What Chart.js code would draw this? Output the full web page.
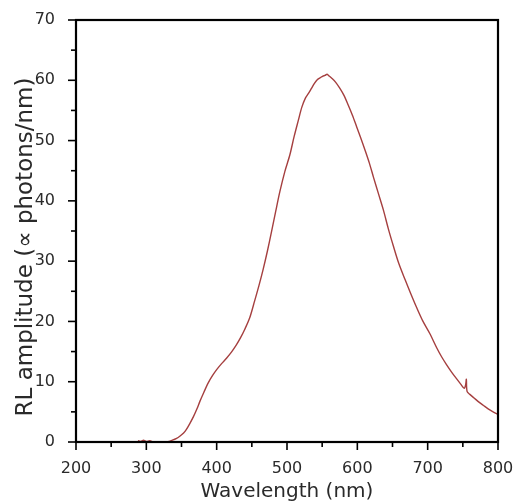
<!DOCTYPE html>
<html>
<head>
<meta charset="utf-8">
<script src="https://cdn.jsdelivr.net/npm/chart.js@4/dist/chart.umd.min.js"></script>
<style>
  html, body { margin: 0; padding: 0; background: #fff; }
  #wrap { width: 515px; height: 504px; }
</style>
</head>
<body>
<div id="wrap"><canvas id="c" width="515" height="504"></canvas></div>
<script>
// RL spectrum
const wavelength = [288, 292, 296, 300, 305, 310, 320, 330, 337, 343, 348, 353, 357, 362, 367, 372, 376, 382, 388, 394,
  400, 407, 414, 421, 428, 434, 440, 447, 454, 460, 466, 472, 478, 484, 490, 497, 504, 510, 516, 521,
  526, 531, 535, 539, 543, 547, 551, 554, 557, 560, 564, 569, 575, 581, 587, 593, 599, 605, 611, 617,
  623, 630, 637, 644, 651, 659, 668, 676, 684, 693, 703, 713, 720, 727, 734, 741, 747, 752, 754, 755,
  756, 760, 766, 772, 779, 786, 793, 800];
const amplitude = [0.2, 0.1, 0.3, 0.1, 0.2, 0.0, 0.0, 0.05, 0.3, 0.6, 1.0, 1.5, 2.1, 3.1, 4.2, 5.5, 6.7, 8.3, 9.8, 11.0,
  12.0, 13.0, 13.9, 14.9, 16.1, 17.3, 18.7, 20.6, 23.4, 25.9, 28.6, 31.6, 34.9, 38.3, 41.6, 44.9, 47.6, 50.6, 53.3, 55.5,
  57.0, 57.9, 58.7, 59.5, 60.1, 60.4, 60.7, 60.8, 61.0, 60.7, 60.3, 59.7, 58.7, 57.5, 55.9, 54.2, 52.3, 50.4, 48.4, 46.3,
  43.9, 41.2, 38.5, 35.4, 32.6, 29.6, 26.9, 24.6, 22.4, 20.1, 18.0, 15.6, 14.1, 12.8, 11.6, 10.5, 9.6, 8.9, 9.5, 10.4,
  8.4, 7.9, 7.3, 6.7, 6.1, 5.5, 5.0, 4.6];

const xTicks = [200, 300, 400, 500, 600, 700, 800];
const yTicks = [0, 10, 20, 30, 40, 50, 60, 70];
const yTitle = 'RL amplitude (\u221D photons/nm)';

const FONT = '"DejaVu Sans", sans-serif';

// frame, outward major/minor ticks and the y title
const frame = {
  id: 'frame',
  afterDraw(chart) {
    const {ctx, chartArea: a, scales} = chart;
    ctx.save();
    ctx.strokeStyle = '#000';
    ctx.lineWidth = 1.6;
    xTicks.forEach((v, i) => {
      let px = scales.x.getPixelForValue(v);
      ctx.beginPath(); ctx.moveTo(px, a.bottom); ctx.lineTo(px, a.bottom + 8); ctx.stroke();
      if (i < xTicks.length - 1) {
        px = scales.x.getPixelForValue(v + 50);
        ctx.beginPath(); ctx.moveTo(px, a.bottom); ctx.lineTo(px, a.bottom + 5); ctx.stroke();
      }
    });
    yTicks.forEach((v, i) => {
      let py = scales.y.getPixelForValue(v);
      ctx.beginPath(); ctx.moveTo(a.left, py); ctx.lineTo(a.left - 8, py); ctx.stroke();
      if (i < yTicks.length - 1) {
        py = scales.y.getPixelForValue(v + 5);
        ctx.beginPath(); ctx.moveTo(a.left, py); ctx.lineTo(a.left - 5, py); ctx.stroke();
      }
    });
    ctx.lineWidth = 2.2;
    ctx.strokeRect(a.left, a.top, a.right - a.left, a.bottom - a.top);

    // y title, a bit below the centre like in the original
    ctx.translate(32, 247);
    ctx.rotate(-Math.PI / 2);
    ctx.fillStyle = '#2a2a2a';
    ctx.font = '23px ' + FONT;
    ctx.textAlign = 'center';
    ctx.textBaseline = 'alphabetic';
    ctx.fillText(yTitle, 0, 0);
    ctx.restore();
  }
};

new Chart(document.getElementById('c'), {
  type: 'line',
  data: {
    datasets: [{
      data: wavelength.map((w, i) => ({x: w, y: amplitude[i]})),
      borderColor: '#a53f3f',
      borderWidth: 1.4,
      pointRadius: 0,
      tension: 0.3,
      fill: false
    }]
  },
  options: {
    responsive: false,
    animation: false,
    layout: {padding: {top: 20, right: 17, left: 0, bottom: 0}},
    plugins: {legend: {display: false}, tooltip: {enabled: false}},
    scales: {
      x: {
        type: 'linear', min: 200, max: 800,
        afterBuildTicks: s => { s.ticks = xTicks.map(v => ({value: v})); },
        afterFit: s => { s.height = 62; s.paddingLeft = 0; s.paddingRight = 0; },
        grid: {display: false},
        border: {display: false},
        ticks: {color: '#2a2a2a', padding: 9, font: {family: FONT, size: 16}},
        title: {display: true, text: 'Wavelength (nm)', color: '#2a2a2a',
          font: {family: FONT, size: 20}, padding: {top: 0, bottom: 0}}
      },
      y: {
        min: 0, max: 70,
        afterBuildTicks: s => { s.ticks = yTicks.map(v => ({value: v})); },
        afterFit: s => { s.width = 76; s.paddingTop = 0; s.paddingBottom = 0; },
        grid: {display: false},
        border: {display: false},
        ticks: {color: '#2a2a2a', padding: 13, font: {family: FONT, size: 16}}
      }
    }
  },
  plugins: [frame]
});
</script>
</body>
</html>
